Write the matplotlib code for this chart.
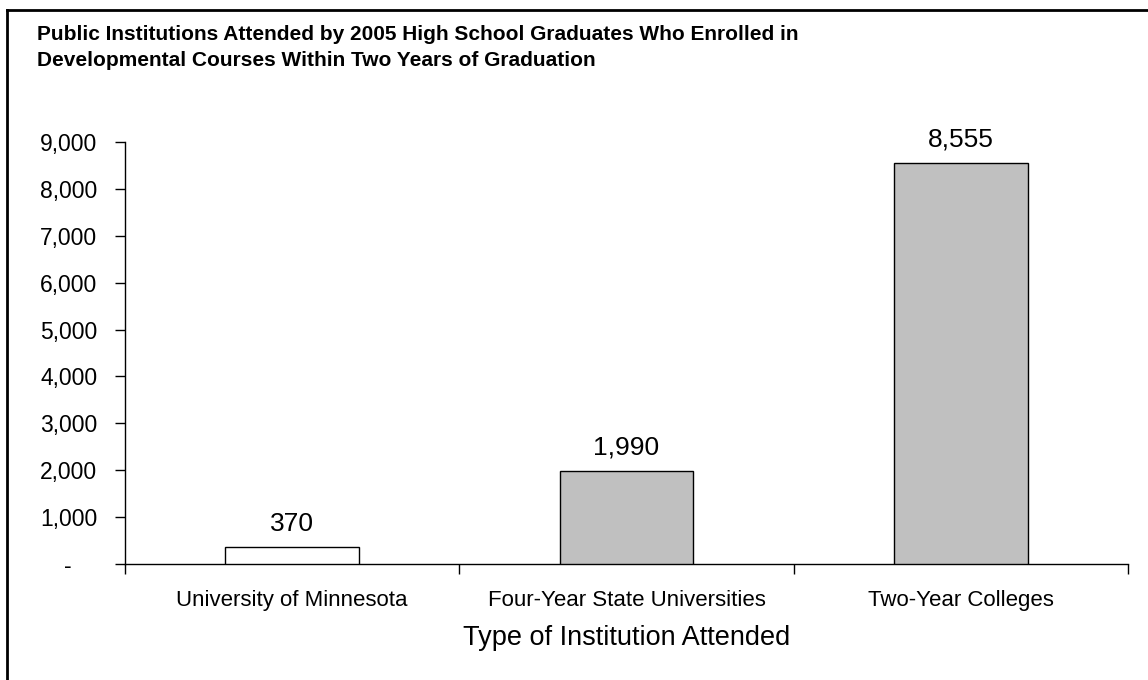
import matplotlib
matplotlib.use("Agg")
import matplotlib.pyplot as plt
from matplotlib.lines import Line2D
from matplotlib.ticker import FuncFormatter

categories = ["University of Minnesota", "Four-Year State Universities", "Two-Year Colleges"]
values = [370, 1990, 8555]
bar_colors = ["#FFFFFF", "#C0C0C0", "#C0C0C0"]
yticks = [0, 1000, 2000, 3000, 4000, 5000, 6000, 7000, 8000, 9000]

plt.rcParams['font.family'] = ['Liberation Sans', 'DejaVu Sans']

W, H = 1148, 680
fig = plt.figure(figsize=(W/100, H/100), dpi=100)
ax = fig.add_axes([125/W, 1-564/H, (1128-125)/W, (564-142)/H])

x = list(range(len(categories)))
ax.bar(x, values, width=0.4, color=bar_colors, edgecolor="black", linewidth=1, zorder=3)
for xi, v in zip(x, values):
    ax.annotate(f"{v:,}", (xi, v), xytext=(0, 11.5), textcoords="offset points",
                ha="center", va="baseline", fontsize=19)

ax.set_xlim(-0.5, 2.5)
ax.set_ylim(0, 9000)
ax.set_yticks(yticks)
ax.yaxis.set_major_formatter(FuncFormatter(lambda v, p: "-    " if v == 0 else f"{int(v):,}"))
ax.tick_params(axis="y", direction="out", length=7, width=1, labelsize=16.5, pad=13)

ax.set_xticks([-0.5, 0.5, 1.5, 2.5])
ax.set_xticklabels([])
ax.set_xticks(x, minor=True)
ax.set_xticklabels(categories, minor=True, fontsize=16)
ax.tick_params(axis="x", which="major", direction="out", length=7, width=1)
ax.tick_params(axis="x", which="minor", length=0, pad=19)
ax.set_xlabel("Type of Institution Attended", fontsize=19.5, labelpad=10)

for s in ["top", "right"]:
    ax.spines[s].set_visible(False)
for s in ["left", "bottom"]:
    ax.spines[s].set_linewidth(1)

fig.text(37/W, 1-35/H, "Public Institutions Attended by 2005 High School Graduates Who Enrolled in",
         fontsize=15, fontweight="bold", ha="left", va="center")
fig.text(37/W, 1-60/H, "Developmental Courses Within Two Years of Graduation",
         fontsize=15, fontweight="bold", ha="left", va="center")

fig.add_artist(Line2D([7/W, 1.0], [1-10/H, 1-10/H], transform=fig.transFigure, color="black", linewidth=2))
fig.add_artist(Line2D([7/W, 7/W], [0, 1-10/H], transform=fig.transFigure, color="black", linewidth=2))

fig.savefig("out.png", dpi=100)
